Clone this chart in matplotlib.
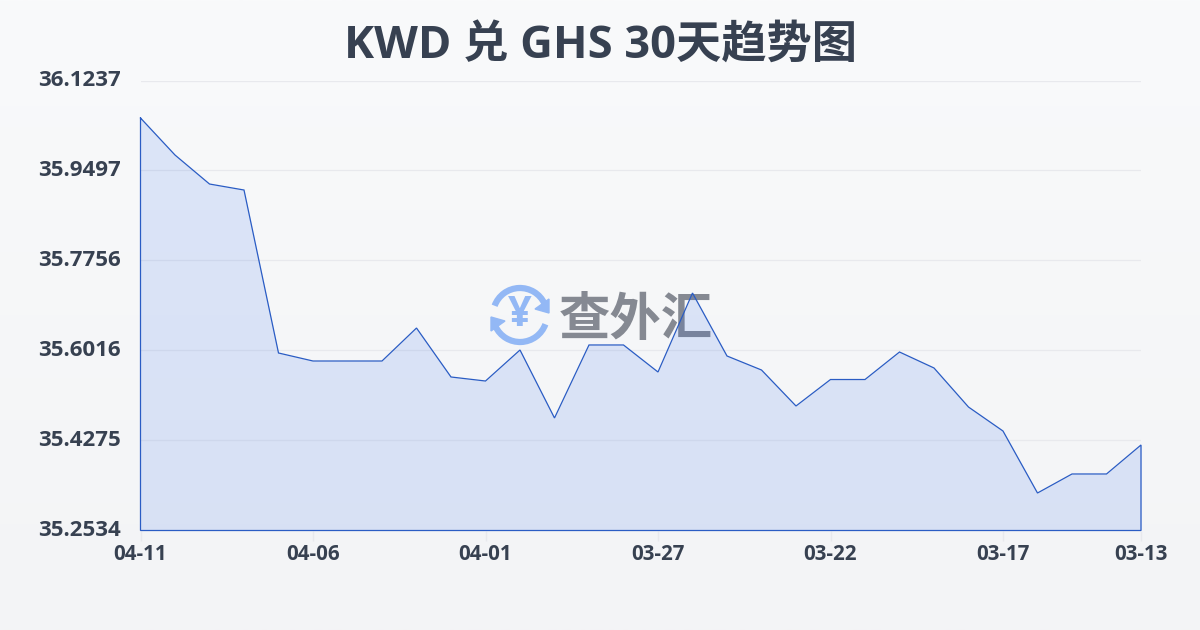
import numpy as np
import matplotlib
matplotlib.use('Agg')
import matplotlib.pyplot as plt
from matplotlib.patches import Arc, Polygon
from matplotlib.transforms import ScaledTranslation

plt.rcParams['font.family'] = ['Open Sans', 'Noto Sans CJK SC', 'DejaVu Sans']

# values, newest first
rates = [36.0512, 35.9796, 35.9235, 35.9119, 35.5967, 35.5812, 35.5812, 35.5812,
         35.6450, 35.5503, 35.5425, 35.6025, 35.4710, 35.6122, 35.6122, 35.5599,
         35.7127, 35.5909, 35.5638, 35.4942, 35.5454, 35.5454, 35.5986, 35.5677,
         35.4922, 35.4458, 35.3259, 35.3627, 35.3627, 35.4188]
y_ticks = [35.2534, 35.4275, 35.6016, 35.7756, 35.9497, 36.1237]
x_pos = [0, 5, 10, 15, 20, 25, 29]
x_labels = ['04-11', '04-06', '04-01', '03-27', '03-22', '03-17', '03-13']

W, H = 1200, 630
fig = plt.figure(figsize=(12, 6.3), dpi=100)

# page background gradient
bg = fig.add_axes([0, 0, 1, 1], zorder=0)
grad = np.linspace(0, 1, 256).reshape(-1, 1)
cmap = matplotlib.colors.LinearSegmentedColormap.from_list('bg', ['#f9fafb', '#f3f4f6'])
bg.imshow(grad, aspect='auto', cmap=cmap, extent=[0, W, H, 0])
bg.set_xlim(0, W)
bg.set_ylim(H, 0)
bg.axis('off')

# watermark goes below the chart
bg.text(636, 319, '查外汇', fontsize=37, fontweight='bold', color='#858992',
        ha='center', va='center', family=['Noto Sans CJK SC', 'DejaVu Sans'])
blue = '#93b8f5'
bg.add_patch(Arc((520, 315), 54, 54, theta1=200, theta2=335, color=blue, lw=4.5))
bg.add_patch(Arc((520, 315), 54, 54, theta1=20, theta2=155, color=blue, lw=4.5))
bg.add_patch(Polygon([[549, 299], [549, 313], [535, 309]], color=blue))
bg.add_patch(Polygon([[491, 317], [491, 331], [505, 321]], color=blue))
bg.text(520, 315, '¥', fontsize=30, fontweight='bold', color=blue, ha='center', va='center')

ax = fig.add_axes([140.5 / W, 1 - 530.5 / H, 1000.5 / W, 450 / H], zorder=1)
ax.patch.set_alpha(0)
x = np.arange(len(rates))
ax.fill_between(x, rates, y_ticks[0], color='#2563eb', alpha=0.135, lw=0, zorder=2)
# outline runs all the way round the area
ax.plot(np.r_[x, x[-1], x[0], x[0]], np.r_[rates, y_ticks[0], y_ticks[0], rates[0]],
        color='#2a5cc4', lw=0.9, zorder=3, solid_joinstyle='miter', clip_on=False)

ax.set_xlim(0, 29)
ax.set_ylim(y_ticks[0], y_ticks[-1])
ax.set_yticks(y_ticks)
ax.set_yticklabels(['%.4f' % v for v in y_ticks])
ax.set_xticks(x_pos)
ax.set_xticklabels(x_labels)
ax.grid(axis='y', color='#e8e9ed', lw=0.9, zorder=1)
ax.set_axisbelow(True)
for s in ax.spines.values():
    s.set_visible(False)
ax.tick_params(axis='y', length=0, pad=14, labelsize=16, labelcolor='#374151')
ax.tick_params(axis='x', length=7, width=1, color='#e8e9ed', pad=3, labelsize=14.8, labelcolor='#374151')
for lab in ax.get_yticklabels() + ax.get_xticklabels():
    lab.set_fontweight('bold')
# y labels sit a touch above their grid lines
shift = ScaledTranslation(0, 1.5 / 72, fig.dpi_scale_trans)
for lab in ax.get_yticklabels():
    lab.set_transform(lab.get_transform() + shift)

fig.text(600 / W, 1 - 47.5 / H, 'KWD 兑 GHS 30天趋势图', fontsize=32.6, fontweight='bold',
         color='#374151', ha='center', va='center')

fig.savefig('out.png', dpi=100)
